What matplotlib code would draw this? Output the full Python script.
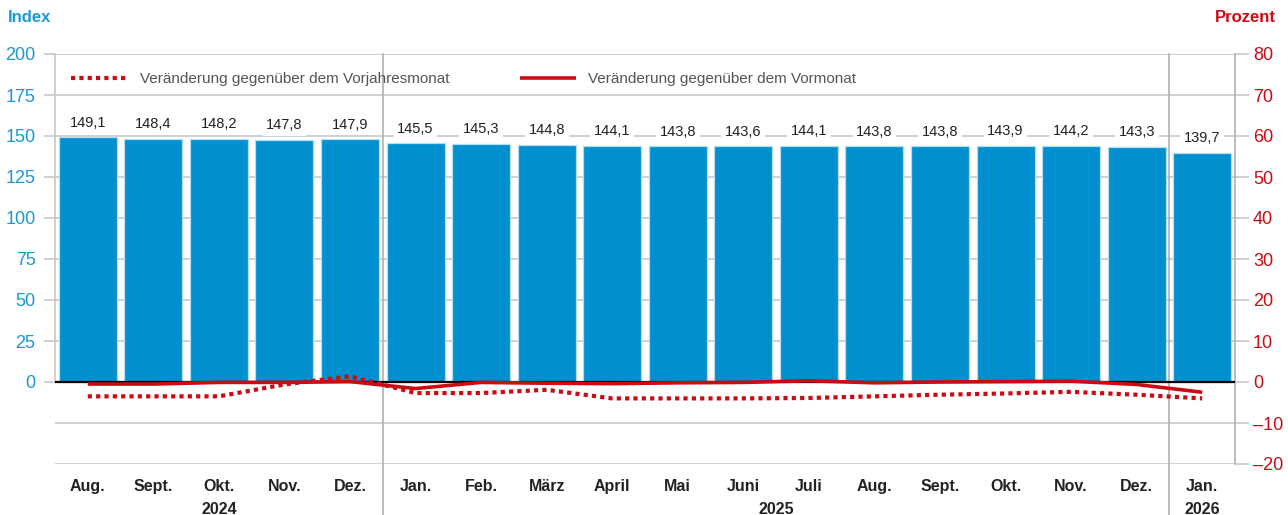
import matplotlib.pyplot as plt
import matplotlib.transforms as mtransforms
import numpy as np

plt.rcParams['font.family'] = ['Liberation Sans', 'DejaVu Sans']

# data
months = ['Aug.', 'Sept.', 'Okt.', 'Nov.', 'Dez.', 'Jan.', 'Feb.', 'März', 'April',
          'Mai', 'Juni', 'Juli', 'Aug.', 'Sept.', 'Okt.', 'Nov.', 'Dez.', 'Jan.']
index_values = [149.1, 148.4, 148.2, 147.8, 147.9, 145.5, 145.3, 144.8, 144.1,
                143.8, 143.6, 144.1, 143.8, 143.8, 143.9, 144.2, 143.3, 139.7]
yoy_change = [-3.5, -3.5, -3.5, -0.6, 1.4, -2.7, -2.7, -1.9, -4.0,
              -4.0, -4.0, -3.9, -3.5, -3.1, -2.8, -2.4, -3.1, -4.0]
mom_change = [-0.5, -0.5, -0.1, -0.1, 0.1, -1.6, -0.1, -0.3, -0.4,
              -0.2, -0.1, 0.3, -0.2, 0.0, 0.1, 0.2, -0.6, -2.5]
years = ['2024', '2025', '2026']
year_pos = [2, 10.5, 17]
left_ticks = [0, 25, 50, 75, 100, 125, 150, 175, 200]
right_ticks = [-20, -10, 0, 10, 20, 30, 40, 50, 60, 70, 80]

blue = '#0090cf'
blue_txt = '#1b98d5'
red = '#cc0a14'
grid_c = '#c8c8c8'
txt = '#222222'

fig = plt.figure(figsize=(12.88, 5.15), dpi=100)
ax = fig.add_axes([55/1288, 1 - 464/515, 1180/1288, 410/515])
x = np.arange(len(months))

ax.set_xlim(-0.5, len(months) - 0.5)
ax.set_ylim(-50, 200)

# gridlines
for v in range(-50, 201, 25):
    ax.axhline(v, color=grid_c, lw=1.2, zorder=0)

bars = ax.bar(x, index_values, width=0.885, color=blue, edgecolor='#b5def3',
              linewidth=0.9, zorder=2)

for xi, v in zip(x, index_values):
    ax.annotate(f'{v:.1f}'.replace('.', ','), (xi, v), xytext=(0, 5.5),
                textcoords='offset points', ha='center', va='bottom',
                fontsize=10.5, color=txt, zorder=4,
                bbox=dict(boxstyle='square,pad=0.25', fc='white', ec='none'))

ax.set_yticks(left_ticks)
ax.set_yticklabels([str(t) for t in left_ticks], color=blue_txt, fontsize=13)
ax.tick_params(axis='y', length=8, width=1.2, color=grid_c, pad=6)
ax.set_xticks(x)
ax.set_xticklabels(months, fontsize=11.5, fontweight='bold', color=txt)
ax.tick_params(axis='x', length=0, pad=11)

for s in ['top', 'bottom', 'right']:
    ax.spines[s].set_visible(False)
ax.spines['left'].set_bounds(0, 200)
ax.spines['left'].set_color(grid_c)
ax.spines['left'].set_linewidth(1.2)

# separators between years
trans = mtransforms.blended_transform_factory(ax.transData, ax.transAxes)
for sx in [4.5, 16.5]:
    ax.plot([sx, sx], [1, -0.125], transform=trans, color='#aaaaaa', lw=1.1,
            clip_on=False, zorder=1)

for yr, xp in zip(years, year_pos):
    ax.text(xp, -45/410, yr, transform=trans, ha='center', va='center',
            fontsize=11.5, fontweight='bold', color=txt)

# right axis
ax2 = ax.twinx()
ax2.set_ylim(-20, 80)
ax2.set_yticks(right_ticks)
ax2.set_yticklabels([str(t).replace('-', '\u2013') for t in right_ticks],
                    color=red, fontsize=13)
ax2.tick_params(axis='y', length=10, width=1.2, color=grid_c, pad=3)
for s in ['top', 'bottom', 'left']:
    ax2.spines[s].set_visible(False)
ax2.spines['right'].set_color('#aaaaaa')
ax2.spines['right'].set_linewidth(1.1)

ax2.axhline(0, color='black', lw=1.6, zorder=3)
ax2.plot(x, mom_change, color=red, lw=2.6, solid_capstyle='butt', zorder=4,
         label='Veränderung gegenüber dem Vormonat')
ax2.plot(x, yoy_change, color=red, lw=3, linestyle=(0, (1.0, 1.0)),
         dash_capstyle='butt', zorder=5,
         label='Veränderung gegenüber dem Vorjahresmonat')

# legend
h, l = ax2.get_legend_handles_labels()
leg = ax2.legend([h[1], h[0]], [l[1], l[0]], loc='upper left',
                 bbox_to_anchor=(0.002, 0.99), ncol=2, frameon=False,
                 fontsize=11, handlelength=3.7, columnspacing=4.6,
                 handletextpad=0.8)
for t in leg.get_texts():
    t.set_color('#555555')

fig.text(8/1288, 1 - 18/515, 'Index', color=blue_txt, fontsize=12,
         fontweight='bold', ha='left', va='center')
fig.text(1276/1288, 1 - 18/515, 'Prozent', color=red, fontsize=12,
         fontweight='bold', ha='right', va='center')

fig.savefig('out.png', dpi=100)
